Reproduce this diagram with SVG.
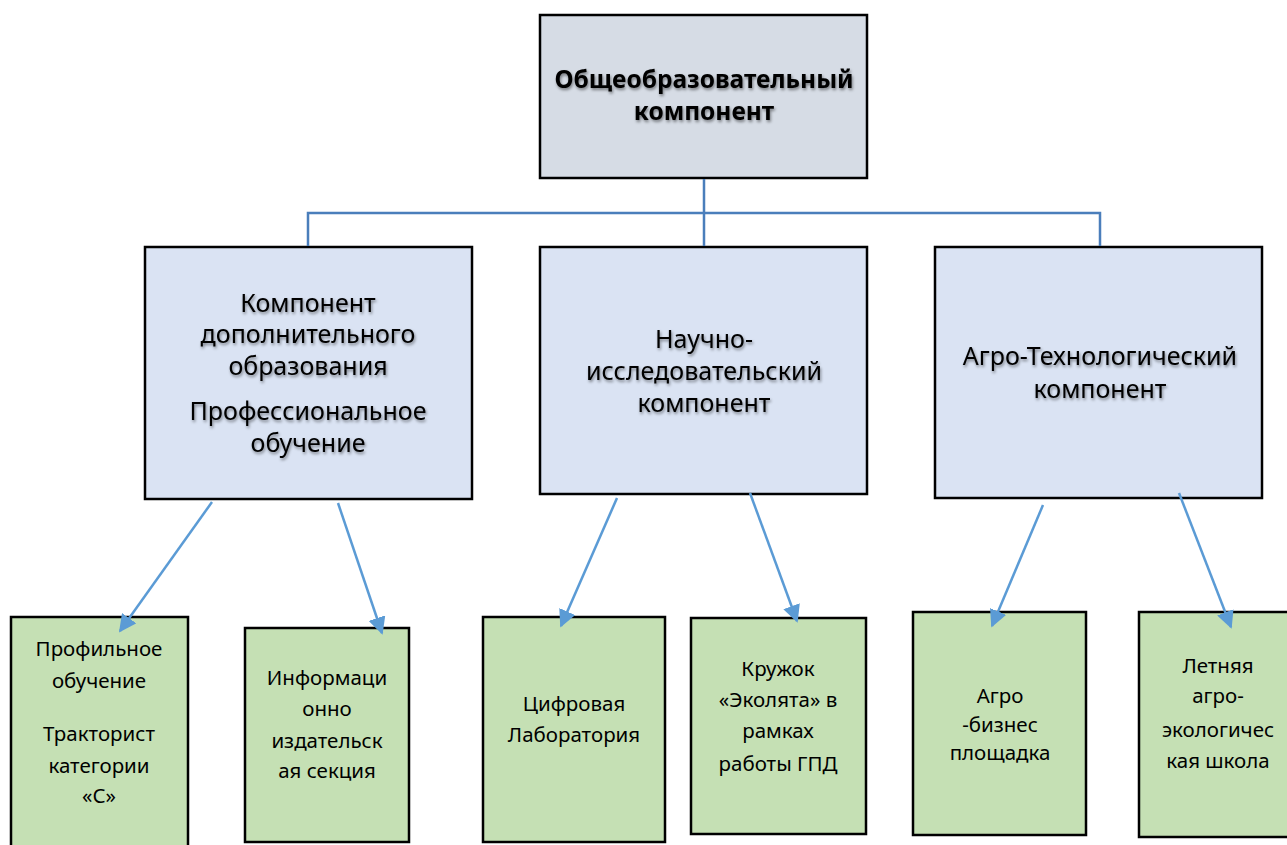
<svg xmlns="http://www.w3.org/2000/svg" width="1287" height="845" viewBox="0 0 1287 845">
<defs>
<style>
.top{fill:#d6dce5;stroke:#000;stroke-width:2.5}
.mid{fill:#dae3f3;stroke:#000;stroke-width:2.5}
.bot{fill:#c5e0b4;stroke:#000;stroke-width:2.5}
.tb{font-family:"Noto Sans","Open Sans","Liberation Sans",sans-serif;font-size:24.5px;font-weight:bold;fill:#000;text-anchor:middle;filter:url(#sh)}
.tm{font-family:"Noto Sans","Open Sans","Liberation Sans",sans-serif;font-size:25px;fill:#000;text-anchor:middle;filter:url(#sh)}
.ts{font-family:"Noto Sans","Open Sans","Liberation Sans",sans-serif;font-size:20.5px;fill:#000;text-anchor:middle}
.tree{fill:none;stroke:#4a7ebb;stroke-width:2.5}
.arr{fill:none;stroke:#5b9bd5;stroke-width:2.5;marker-end:url(#ah)}
</style>
<filter id="sh" x="-10%" y="-30%" width="120%" height="160%">
<feDropShadow dx="1" dy="2" stdDeviation="1.5" flood-color="#000" flood-opacity="0.45"/>
</filter>
<marker id="ah" viewBox="0 0 10 10" refX="9" refY="5" markerWidth="7" markerHeight="7" orient="auto" markerUnits="strokeWidth">
<path d="M0,0 L10,5 L0,10 z" fill="#5b9bd5"/>
</marker>
</defs>
<rect width="1287" height="845" fill="#fff"/>
<g id="n-top">
<rect class="top" x="540" y="15" width="327" height="163"/>
<text class="tb" x="704" y="88">Общеобразовательный</text>
<text class="tb" x="704" y="120">компонент</text>
</g>
<g id="n-dop">
<rect class="mid" x="145" y="247" width="327" height="252"/>
<text class="tm" x="308" y="312">Компонент</text>
<text class="tm" x="308" y="343">дополнительного</text>
<text class="tm" x="308" y="375">образования</text>
<text class="tm" x="308" y="420">Профессиональное</text>
<text class="tm" x="308" y="452">обучение</text>
</g>
<g id="n-nauch">
<rect class="mid" x="540" y="247" width="327" height="247"/>
<text class="tm" x="704" y="348">Научно-</text>
<text class="tm" x="704" y="380">исследовательский</text>
<text class="tm" x="704" y="412">компонент</text>
</g>
<g id="n-agro">
<rect class="mid" x="935" y="247" width="327" height="251"/>
<text class="tm" x="1100" y="365">Агро-Технологический</text>
<text class="tm" x="1100" y="398">компонент</text>
</g>
<g id="n-prof">
<rect class="bot" x="11" y="617" width="177" height="240"/>
<text class="ts" x="99" y="656">Профильное</text>
<text class="ts" x="99" y="688">обучение</text>
<text class="ts" x="99" y="741">Тракторист</text>
<text class="ts" x="99" y="773">категории</text>
<text class="ts" x="99" y="803">«С»</text>
</g>
<g id="n-info">
<rect class="bot" x="245" y="628" width="164" height="214"/>
<text class="ts" x="327" y="685">Информаци</text>
<text class="ts" x="327" y="716">онно</text>
<text class="ts" x="327" y="748">издательск</text>
<text class="ts" x="327" y="778">ая секция</text>
</g>
<g id="n-lab">
<rect class="bot" x="483" y="617" width="182" height="225"/>
<text class="ts" x="574" y="711">Цифровая</text>
<text class="ts" x="574" y="742">Лаборатория</text>
</g>
<g id="n-kruzhok">
<rect class="bot" x="691" y="618" width="175" height="216"/>
<text class="ts" x="778" y="676">Кружок</text>
<text class="ts" x="778" y="707">«Эколята» в</text>
<text class="ts" x="778" y="738">рамках</text>
<text class="ts" x="778" y="771">работы ГПД</text>
</g>
<g id="n-biz">
<rect class="bot" x="913" y="612" width="173" height="223"/>
<text class="ts" x="1000" y="703">Агро</text>
<text class="ts" x="1000" y="732">-бизнес</text>
<text class="ts" x="1000" y="760">площадка</text>
</g>
<g id="n-school">
<rect class="bot" x="1139" y="612" width="160" height="225"/>
<text class="ts" x="1218" y="673">Летняя</text>
<text class="ts" x="1218" y="703">агро-</text>
<text class="ts" x="1218" y="737">экологичес</text>
<text class="ts" x="1218" y="768">кая школа</text>
</g>
<g id="connectors">
<path class="tree" d="M704,179 V246 M308,246 V213 H1100 V246"/>
<line class="arr" x1="212" y1="502" x2="120" y2="631"/>
<line class="arr" x1="338" y1="503" x2="382" y2="633"/>
<line class="arr" x1="617" y1="498" x2="561" y2="626"/>
<line class="arr" x1="750" y1="493" x2="797" y2="621"/>
<line class="arr" x1="1043" y1="505" x2="992" y2="626"/>
<line class="arr" x1="1179" y1="493" x2="1231" y2="627"/>
</g>
</svg>
